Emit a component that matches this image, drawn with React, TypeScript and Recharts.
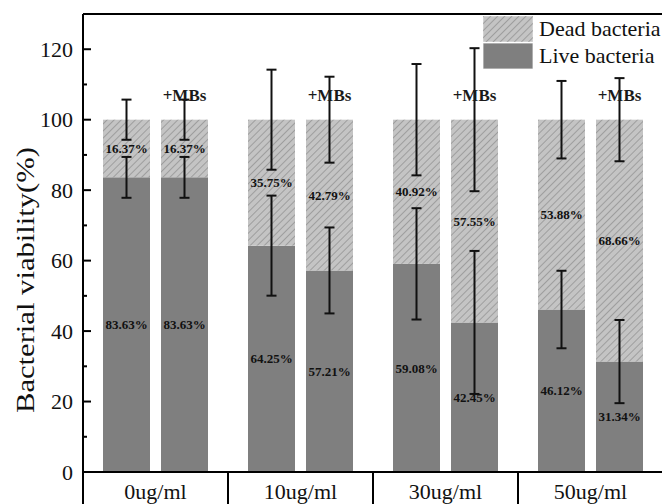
import React from 'react';
import { BarChart, Bar, XAxis, YAxis, LabelList, ReferenceLine, Legend } from 'recharts';

const categories = ['0ug/ml', '10ug/ml', '30ug/ml', '50ug/ml'];
const liveCtrl = [83.63, 64.25, 59.08, 46.12];
const deadCtrl = [16.37, 35.75, 40.92, 53.88];
const liveMBs = [83.63, 57.21, 42.45, 31.34];
const deadMBs = [16.37, 42.79, 57.55, 68.66];
const liveCtrlErr = [5.8, 14.2, 15.8, 11.0];
const deadCtrlErr = [5.7, 14.2, 15.8, 11.0];
const liveMBsErr = [5.8, 12.2, 20.3, 11.8];
const deadMBsErr = [5.7, 12.2, 20.3, 11.8];
const yTicks = [0, 10, 20, 30, 40, 50, 60, 70, 80, 90, 100, 110, 120];

const data = categories.map((name, i) => ({
  name,
  live1: liveCtrl[i],
  dead1: deadCtrl[i],
  live2: liveMBs[i],
  dead2: deadMBs[i],
  errLive1: liveCtrlErr[i],
  errDead1: deadCtrlErr[i],
  errLive2: liveMBsErr[i],
  errDead2: deadMBsErr[i],
}));

const serif = "'Times New Roman', 'Liberation Serif', serif";
const LIVE = '#7f7f7f';
const DEAD = '#c4c4c4';

// dead segment draws its own hatch plus the error bars of both segments, so they sit on top
const makeDeadShape = (deadKey: string, liveErrKey: string, deadErrKey: string) => (props: any) => {
  const { x, y, width, height, payload } = props;
  const ppu = height / payload[deadKey];
  const cx = x + width / 2;
  const err = (cy: number, e: number) => {
    const h = e * ppu;
    return (
      <g stroke="#111" strokeWidth={2}>
        <line x1={cx} x2={cx} y1={cy - h} y2={cy + h} />
        <line x1={cx - 5} x2={cx + 5} y1={cy - h} y2={cy - h} />
        <line x1={cx - 5} x2={cx + 5} y1={cy + h} y2={cy + h} />
      </g>
    );
  };
  return (
    <g>
      <rect x={x} y={y} width={width} height={height} fill={DEAD} />
      <rect x={x} y={y} width={width} height={height} fill="url(#hatch)" />
      {err(y, payload[deadErrKey])}
      {err(y + height, payload[liveErrKey])}
    </g>
  );
};

const YTick = (props: any) => {
  const { x, y, payload } = props;
  const axisX = x + 10;
  const major = payload.value % 20 === 0;
  return (
    <g>
      <line x1={axisX} x2={axisX + (major ? 8 : 4)} y1={y} y2={y} stroke="#000" strokeWidth={2} />
      {major && (
        <text x={x} y={y} dy="0.35em" textAnchor="end" fontFamily={serif} fontSize={22} fill="#111">
          {payload.value}
        </text>
      )}
    </g>
  );
};

const XTick = (props: any) => {
  const { x, y, payload } = props;
  return (
    <text x={x} y={y} textAnchor="middle" fontFamily={serif} fontSize={22} fill="#111">
      {payload.value}
    </text>
  );
};

const YLabel = (props: any) => {
  const vb = props.viewBox;
  const cx = vb.x + 25;
  const cy = vb.y + vb.height / 2 + 37;
  return (
    <text
      transform={`translate(${cx},${cy}) rotate(-90)`}
      textAnchor="middle"
      dominantBaseline="central"
      fontFamily={serif}
      fontSize={26}
      textLength={266}
      lengthAdjust="spacingAndGlyphs"
      fill="#111"
    >
      Bacterial viability(%)
    </text>
  );
};

const MBsLabel = (p: any) => {
  const vb = p.viewBox ?? p;
  const x = vb.x ?? p.x;
  const y = vb.y ?? p.y;
  const w = vb.width ?? p.width;
  return (
    <text x={x + w / 2} y={y - 19} textAnchor="middle" fontFamily={serif} fontSize={17} fontWeight="bold" fill="#1a1a1a">
      +MBs
    </text>
  );
};

const pct = (v: any) => `${Number(v).toFixed(2)}%`;
const labelStyle = { fontFamily: serif, fontSize: 13, fontWeight: 'bold' as const, fill: '#111' };

const LegendContent = () => {
  const row = (label: string, hatched: boolean) => (
    <div style={{ display: 'flex', alignItems: 'center', height: 27 }}>
      <svg width={50} height={26}>
        <rect x={0} y={0} width={50} height={26} fill={hatched ? DEAD : LIVE} stroke="#e0e0e0" />
        {hatched && <rect x={0} y={0} width={50} height={26} fill="url(#hatchLegend)" />}
      </svg>
      <span style={{ marginLeft: 6, whiteSpace: 'nowrap' }}>{label}</span>
    </div>
  );
  return (
    <div style={{ fontFamily: serif, fontSize: 22, color: '#111', lineHeight: '26px' }}>
      <svg width={0} height={0} style={{ position: 'absolute' }}>
        <defs>
          <pattern id="hatchLegend" width={5} height={5} patternUnits="userSpaceOnUse" patternTransform="rotate(45)">
            <line x1={0} y1={0} x2={0} y2={5} stroke="#6e6e6e" strokeWidth={0.9} />
          </pattern>
        </defs>
      </svg>
      {row('Dead bacteria', true)}
      {row('Live bacteria', false)}
    </div>
  );
};

export default function App() {
  return (
    <div style={{ position: 'absolute', left: 0, top: 0, width: 662, height: 504, overflow: 'hidden', background: '#fff' }}>
      <BarChart
        width={664}
        height={512}
        data={data}
        margin={{ top: 14, right: 1, bottom: 0, left: 0 }}
        barSize={47}
        barGap={11}
      >
        <defs>
          <pattern id="hatch" width={5} height={5} patternUnits="userSpaceOnUse" patternTransform="rotate(45)">
            <line x1={0} y1={0} x2={0} y2={5} stroke="#6e6e6e" strokeWidth={0.9} />
          </pattern>
        </defs>
        <XAxis
          dataKey="name"
          height={40}
          interval={0}
          tickLine={false}
          tickSize={0}
          tickMargin={27}
          axisLine={{ stroke: '#000', strokeWidth: 2 }}
          tick={<XTick />}
        />
        <YAxis
          type="number"
          domain={[0, 130]}
          ticks={yTicks}
          interval={0}
          width={83}
          tickLine={false}
          tickSize={0}
          tickMargin={10}
          axisLine={{ stroke: '#000', strokeWidth: 2 }}
          tick={<YTick />}
          label={<YLabel />}
        />
        <Legend
          layout="vertical"
          align="center"
          verticalAlign="middle"
          content={<LegendContent />}
          wrapperStyle={{ left: 483, top: 15, width: 'auto' }}
        />
        <Bar dataKey="live1" stackId="a" fill={LIVE} isAnimationActive={false}>
          <LabelList dataKey="live1" position="center" formatter={pct} style={labelStyle} />
        </Bar>
        <Bar dataKey="dead1" stackId="a" fill={DEAD} isAnimationActive={false} shape={makeDeadShape('dead1', 'errLive1', 'errDead1')}>
          <LabelList dataKey="dead1" position="center" formatter={pct} style={labelStyle} />
        </Bar>
        <Bar dataKey="live2" stackId="b" fill={LIVE} isAnimationActive={false}>
          <LabelList dataKey="live2" position="center" formatter={pct} style={labelStyle} />
        </Bar>
        <Bar dataKey="dead2" stackId="b" fill={DEAD} isAnimationActive={false} shape={makeDeadShape('dead2', 'errLive2', 'errDead2')}>
          <LabelList dataKey="dead2" position="center" formatter={pct} style={labelStyle} />
          <LabelList dataKey="dead2" content={<MBsLabel />} />
        </Bar>
        <ReferenceLine y={130} stroke="#000" strokeWidth={2} ifOverflow="visible" />
        {categories.map((c) => (
          <ReferenceLine
            key={c}
            segment={[{ x: c, y: 0 }, { x: c, y: -10 }]}
            position="start"
            stroke="#000"
            strokeWidth={2}
            ifOverflow="visible"
          />
        ))}
      </BarChart>
    </div>
  );
}
